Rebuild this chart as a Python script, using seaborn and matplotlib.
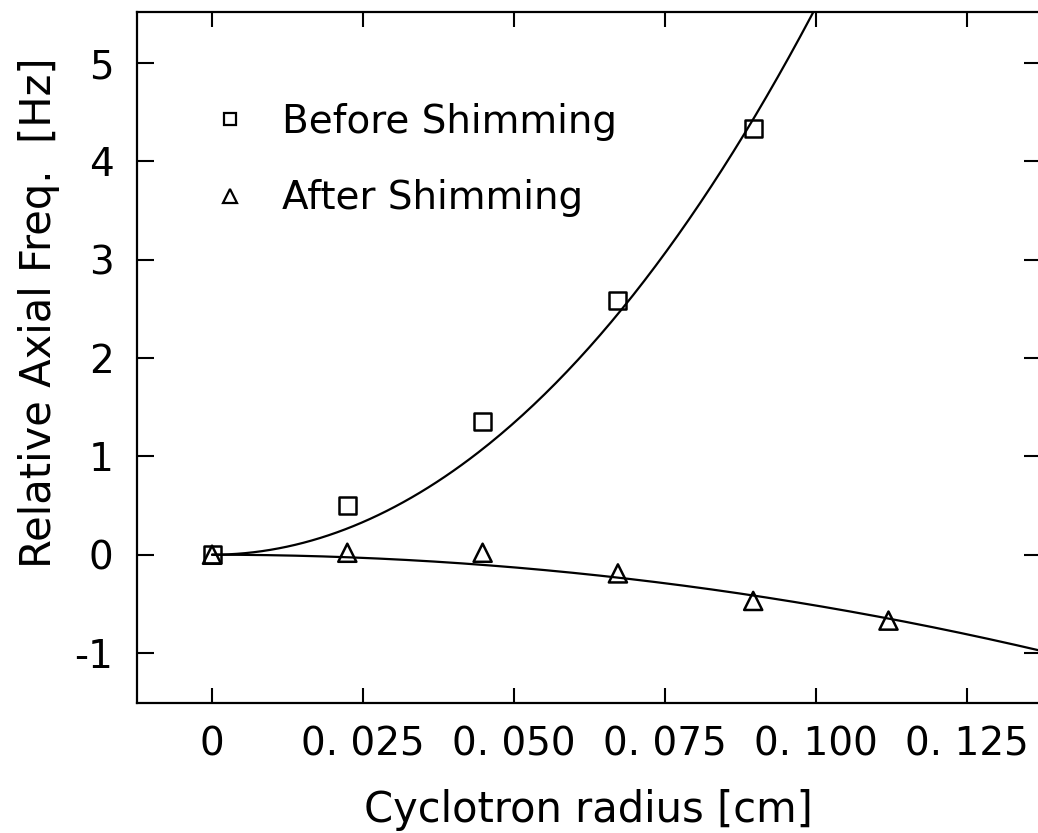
import numpy as np
import pandas as pd
import matplotlib
matplotlib.use("Agg")
import matplotlib.pyplot as plt
from matplotlib.lines import Line2D
import seaborn as sns

# ---- data ----
radius_before = [0.0, 0.0224, 0.0448, 0.0672, 0.0896]
freq_before = [0.0, 0.50, 1.35, 2.59, 4.33]
radius_after = [0.0, 0.0224, 0.0448, 0.0672, 0.0896, 0.1120]
freq_after = [0.0, 0.02, 0.02, -0.19, -0.47, -0.67]
# fitted curves: y = c2*x^2 + c4*x^4 (coefficients)
fit_before = [530.0, 2700.0]
fit_after = [-51.5, -20.0]
xtick_vals = [0.0, 0.025, 0.050, 0.075, 0.100, 0.125]
xtick_labels = ["0", "0. 025", "0. 050", "0. 075", "0. 100", "0. 125"]
ytick_vals = [-1, 0, 1, 2, 3, 4, 5]
ytick_labels = ["-1", "0", "1", "2", "3", "4", "5"]
legend_labels = ["Before Shimming", "After Shimming"]

sns.set_theme(style="ticks")
plt.rcParams["font.family"] = ["DejaVu Sans Condensed", "DejaVu Sans"]
plt.rcParams["text.color"] = "black"
plt.rcParams["axes.labelcolor"] = "black"

fig = plt.figure(figsize=(10.38, 8.33), dpi=100)
ax = fig.add_axes([137 / 1038, 130 / 833, 904 / 1038, 691 / 833])

XMIN, XMAX = -0.01242, 0.13725
curve_x = np.linspace(0.0, XMAX, 300)
df_fit = pd.DataFrame({
    "x": np.concatenate([curve_x, curve_x]),
    "y": np.concatenate([fit_before[0] * curve_x**2 + fit_before[1] * curve_x**4,
                         fit_after[0] * curve_x**2 + fit_after[1] * curve_x**4]),
    "s": ["b"] * len(curve_x) + ["a"] * len(curve_x),
})
sns.lineplot(data=df_fit, x="x", y="y", units="s", estimator=None, color="black",
             lw=1.6, ax=ax, legend=False, sort=False)

df_b = pd.DataFrame({"x": radius_before, "y": freq_before})
df_a = pd.DataFrame({"x": radius_after, "y": freq_after})
sns.scatterplot(data=df_b, x="x", y="y", marker="s", s=150, facecolor="none",
                edgecolor="black", linewidth=1.8, ax=ax, legend=False, zorder=3)
sns.scatterplot(data=df_a, x="x", y="y", marker="^", s=170, facecolor="none",
                edgecolor="black", linewidth=1.8, ax=ax, legend=False, zorder=3)

ax.set_xlim(XMIN, XMAX)
ax.set_ylim(-1.508, 5.519)
ax.set_xticks(xtick_vals)
ax.set_xticklabels(xtick_labels)
ax.set_yticks(ytick_vals)
ax.set_yticklabels(ytick_labels)

ax.tick_params(axis="both", which="major", direction="in", width=1.5,
               labelsize=28, colors="black", top=True, right=True)
ax.tick_params(axis="x", length=11, pad=16)
ax.tick_params(axis="y", length=12, pad=17)
for sp in ax.spines.values():
    sp.set_visible(True)
    sp.set_linewidth(1.6)
    sp.set_color("black")

ax.set_xlabel("Cyclotron radius [cm]", fontsize=30, color="black")
ax.set_ylabel("Relative Axial Freq.  [Hz]", fontsize=30, color="black")
ax.xaxis.set_label_coords(0.499, -0.125)
ax.yaxis.set_label_coords(-0.085, 0.565)

handles = [
    Line2D([], [], ls="none", marker="s", markersize=9, markerfacecolor="none",
           markeredgecolor="black", markeredgewidth=1.6),
    Line2D([], [], ls="none", marker="^", markersize=10, markerfacecolor="none",
           markeredgecolor="black", markeredgewidth=1.6),
]
leg = ax.legend(handles, legend_labels, loc="upper left", bbox_to_anchor=(0.0813, 0.869),
                frameon=False, fontsize=28, handlelength=1.0, handletextpad=0.85,
                labelspacing=1.0, borderpad=0, borderaxespad=0)
for t in leg.get_texts():
    t.set_color("black")

fig.savefig("out.png", dpi=100, facecolor="white")
